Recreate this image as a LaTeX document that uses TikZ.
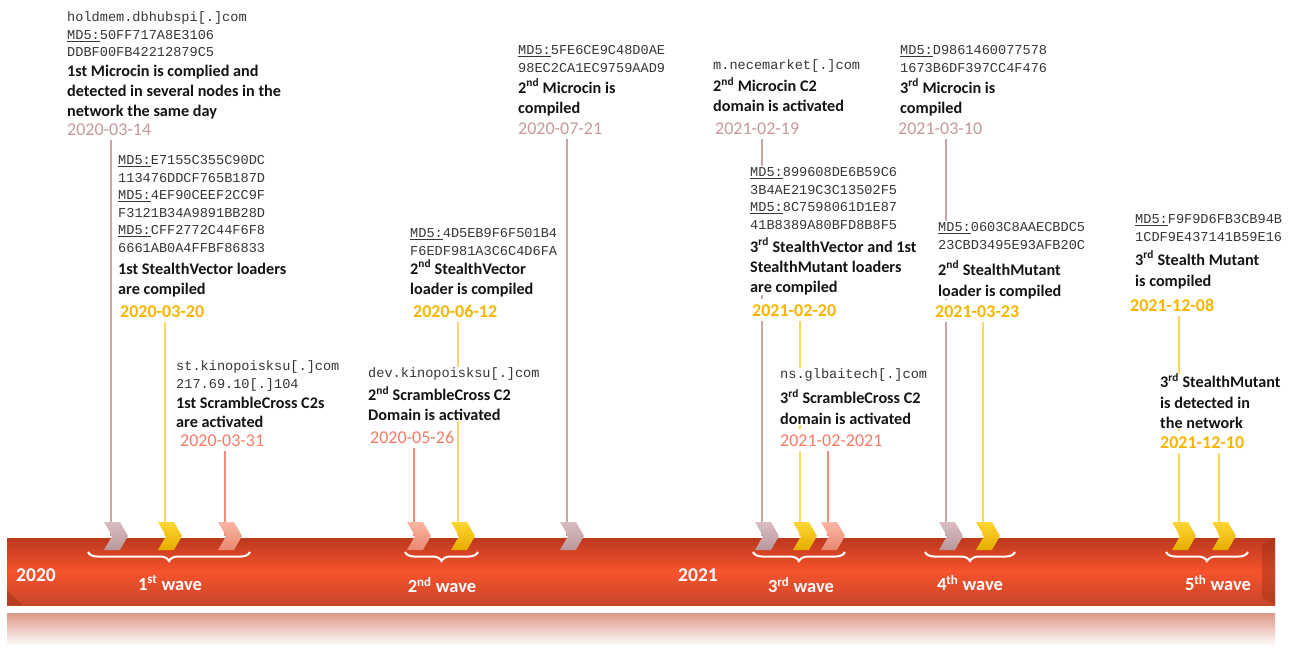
\documentclass[tikz,border=0pt]{standalone}
\usepackage{fontspec}
\setmainfont{Carlito}
\newfontfamily\monof{Liberation Mono}
\usetikzlibrary{shapes.symbols,decorations.pathreplacing}
\definecolor{mauveL}{HTML}{C9A5A8}
\definecolor{mauveD}{HTML}{C49A9C}
\definecolor{goldL}{HTML}{FFD75E}
\definecolor{goldD}{HTML}{F8B500}
\definecolor{salL}{HTML}{F28B78}
\definecolor{salD}{HTML}{F47C64}
\definecolor{monoc}{HTML}{363636}
\definecolor{boldc}{HTML}{141414}
\definecolor{bartop}{HTML}{BC381E}
\definecolor{barmid}{HTML}{F6532C}
\definecolor{barbot}{HTML}{C8462A}
\definecolor{reflc}{HTML}{DE9888}
\definecolor{chMt}{HTML}{D9BEC1}
\definecolor{chMb}{HTML}{B8979B}
\definecolor{chYt}{HTML}{FFD633}
\definecolor{chYb}{HTML}{E6AC00}
\definecolor{chSt}{HTML}{F9B6A3}
\definecolor{chSb}{HTML}{E9876F}
\newcommand{\Mo}[1]{{\monof\fontsize{13.6}{17.5}\selectfont\color{monoc}\rule{0pt}{11pt}#1}}
\newcommand{\Bo}[1]{{\bfseries\fontsize{16.2}{17.5}\selectfont\color{boldc}\rule{0pt}{12pt}#1}}
\newcommand{\mdu}{\underline{MD5:}}
\newcommand{\sps}[1]{\textsuperscript{#1}}
\pgfdeclarelayer{bg}
\pgfsetlayers{bg,main}
\tikzset{
  blk/.style={anchor=north west, inner sep=0pt, align=left, fill=white, font=\fontsize{14}{17.5}\selectfont},
  datebase/.style={anchor=base west, inner xsep=0pt, inner ysep=5pt, fill=white, font=\fontsize{18}{20}\selectfont},
  dateM/.style={datebase, text=mauveD},
  dateY/.style={datebase, text=goldD, font=\bfseries\fontsize{18}{20}\selectfont},
  dateS/.style={datebase, text=salD},
  chevbase/.style={signal, signal from=west, signal to=east, signal pointer angle=120,
    minimum width=24pt, minimum height=28pt, inner sep=0pt, draw=none},
  chevM/.style={chevbase, top color=chMt, bottom color=chMb},
  chevY/.style={chevbase, top color=chYt, bottom color=chYb},
  chevS/.style={chevbase, top color=chSt, bottom color=chSb},
  conbase/.style={line width=2pt},
  conM/.style={conbase, draw=mauveL},
  conY/.style={conbase, draw=goldL},
  conS/.style={conbase, draw=salL},
  wbrace/.style={draw=white, line width=2pt, decorate, decoration={brace, mirror, amplitude=9pt}},
  wlab/.style={text=white, inner sep=0pt, font=\bfseries\fontsize{18.5}{20}\selectfont},
  ylab/.style={text=white, inner sep=0pt, font=\bfseries\fontsize{19.5}{20}\selectfont},
}
\begin{document}
\begin{tikzpicture}[x=1pt,y=-1pt]
\useasboundingbox (0,0) rectangle (1294,648);
\begin{pgfonlayer}{bg}
  \fill[white] (0,0) rectangle (1294,648);
  % timeline bar
  \shade[top color=bartop, bottom color=barbot, middle color=barmid] (7,538) rectangle (1275,605);
  \fill[bartop!85!black, opacity=0.45] (1262,545) -- (1275,538) -- (1275,605) -- (1262,598) -- cycle;
  \fill[bartop!80!black, opacity=0.4] (7,590) -- (22,605) -- (7,605) -- cycle;
  % reflection
  \shade[top color=reflc, bottom color=white] (7,613) rectangle (1275,646);
\end{pgfonlayer}

% ---------- text blocks ----------
\node[blk] (b1) at (67,10.5) {\Mo{holdmem.dbhubspi[.]com}\\ \Mo{\mdu 50FF717A8E3106}\\ \Mo{DDBF00FB42212879C5}\\[2pt] \Bo{1st Microcin is complied and}\\[2.5pt] \Bo{detected in several nodes in the}\\[2.5pt] \Bo{network the same day}};
\node[dateM] (d1) at (67,135) {2020-03-14};

\node[blk] (b2) at (118,153.5) {\Mo{\mdu E7155C355C90DC}\\ \Mo{113476DDCF765B187D}\\ \Mo{\mdu 4EF90CEEF2CC9F}\\ \Mo{F3121B34A9891BB28D}\\ \Mo{\mdu CFF2772C44F6F8}\\ \Mo{6661AB0A4FFBF86833}\\[4.5pt] \Bo{1st StealthVector loaders}\\[2.5pt] \Bo{are compiled}};
\node[dateY] (d2) at (120,317) {2020-03-20};

\node[blk] (b3) at (176,359.5) {\Mo{st.kinopoisksu[.]com}\\ \Mo{217.69.10[.]104}\\[2.5pt] \Bo{1st ScrambleCross C2s}\\[1.5pt] \Bo{are activated}};
\node[dateS] (d3) at (180,446) {2020-03-31};

\node[blk] (b4) at (410,226.5) {\Mo{\mdu 4D5EB9F6F501B4}\\ \Mo{F6EDF981A3C6C4D6FA}\\[1.5pt] \Bo{2\sps{nd} StealthVector}\\[2.5pt] \Bo{loader is compiled}};
\node[dateY] (d4) at (413,317) {2020-06-12};

\node[blk] (b5) at (368,366.5) {\Mo{dev.kinopoisksu[.]com}\\[5.5pt] \Bo{2\sps{nd} ScrambleCross C2}\\[2.5pt] \Bo{Domain is activated}};
\node[dateS] (d5) at (370,443) {2020-05-26};

\node[blk] (b6) at (518,43.5) {\Mo{\mdu 5FE6CE9C48D0AE}\\ \Mo{98EC2CA1EC9759AAD9}\\[3.5pt] \Bo{2\sps{nd} Microcin is}\\[2.5pt] \Bo{compiled}};
\node[dateM] (d6) at (518,134) {2020-07-21};

\node[blk] (b7) at (713,58.5) {\Mo{m.necemarket[.]com}\\[4.5pt] \Bo{2\sps{nd} Microcin C2}\\[2.5pt] \Bo{domain is activated}};
\node[dateM] (d7) at (715,134) {2021-02-19};

\node[blk] (b8) at (900,43.5) {\Mo{\mdu D9861460077578}\\ \Mo{1673B6DF397CC4F476}\\[3.5pt] \Bo{3\sps{rd} Microcin is}\\[2.5pt] \Bo{compiled}};
\node[dateM] (d8) at (898,134) {2021-03-10};

\node[blk] (b9) at (750,165.5) {\Mo{\mdu 899608DE6B59C6}\\ \Mo{3B4AE219C3C13502F5}\\ \Mo{\mdu 8C7598061D1E87}\\ \Mo{41B8389A80BFD8B8F5}\\[5.5pt] \Bo{3\sps{rd} StealthVector and 1st}\\[3pt] \Bo{StealthMutant loaders}\\[2.5pt] \Bo{are compiled}};
\node[dateY] (d9) at (752,316) {2021-02-20};

\node[blk] (b10) at (938,220.5) {\Mo{\mdu 0603C8AAECBDC5}\\ \Mo{23CBD3495E93AFB20C}\\[8.5pt] \Bo{2\sps{nd} StealthMutant}\\[3.5pt] \Bo{loader is compiled}};
\node[dateY] (d10) at (935,317) {2021-03-23};

\node[blk] (b11) at (780,367.5) {\Mo{ns.glbaitech[.]com}\\[7.5pt] \Bo{3\sps{rd} ScrambleCross C2}\\[3.5pt] \Bo{domain is activated}};
\node[dateS] (d11) at (780,446) {2021-02-2021};

\node[blk] (b12) at (1135,212.5) {\Mo{\mdu F9F9D6FB3CB94B}\\ \Mo{1CDF9E437141B59E16}\\[6.5pt] \Bo{3\sps{rd} Stealth Mutant}\\[3.5pt] \Bo{is compiled}};
\node[dateY] (d12) at (1130,311) {2021-12-08};

\node[blk] (b13) at (1160,373.5) {\Bo{3\sps{rd} StealthMutant}\\[3.5pt] \Bo{is detected in}\\[2.5pt] \Bo{the network}};
\node[dateY] (d13) at (1160,448) {2021-12-10};

% ---------- chevrons ----------
\node[chevM] (c1) at (116,536) {};
\node[chevY] (c2) at (170,536) {};
\node[chevS] (c3) at (230,536) {};
\node[chevS] (c4) at (419,536) {};
\node[chevY] (c5) at (463,536) {};
\node[chevM] (c6) at (572,536) {};
\node[chevM] (c7) at (767,536) {};
\node[chevY] (c8) at (805,536) {};
\node[chevS] (c9) at (833,536) {};
\node[chevM] (c10) at (951,536) {};
\node[chevY] (c11) at (988,536) {};
\node[chevY] (c12) at (1184,536) {};
\node[chevY] (c13) at (1224,536) {};

% ---------- connectors ----------
\begin{pgfonlayer}{bg}
  \draw[conM] ([xshift=-5pt]c1.north |- d1.south) -- ([xshift=-5pt]c1.center);
  \draw[conY] ([xshift=-5pt]c2.north |- d2.south) -- ([xshift=-5pt]c2.center);
  \draw[conS] ([xshift=-5pt]c3.north |- d3.south) -- ([xshift=-5pt]c3.center);
  \draw[conS] ([xshift=-5pt]c4.north |- d5.south) -- ([xshift=-5pt]c4.center);
  \draw[conY] ([xshift=-5pt]c5.north |- d4.south) -- ([xshift=-5pt]c5.center);
  \draw[conM] ([xshift=-5pt]c6.north |- d6.south) -- ([xshift=-5pt]c6.center);
  \draw[conM] ([xshift=-5pt]c7.north |- d7.south) -- ([xshift=-5pt]c7.center);
  \draw[conY] ([xshift=-5pt]c8.north |- d9.south) -- ([xshift=-5pt]c8.center);
  \draw[conS] ([xshift=-5pt]c9.north |- d11.south) -- ([xshift=-5pt]c9.center);
  \draw[conM] ([xshift=-5pt]c10.north |- d8.south) -- ([xshift=-5pt]c10.center);
  \draw[conY] ([xshift=-5pt]c11.north |- d10.south) -- ([xshift=-5pt]c11.center);
  \draw[conY] ([xshift=-5pt]c12.north |- d12.south) -- ([xshift=-5pt]c12.center);
  \draw[conY] ([xshift=-5pt]c13.north |- d13.south) -- ([xshift=-5pt]c13.center);
\end{pgfonlayer}

% ---------- braces and labels ----------
\draw[wbrace] (88,552) -- (250,552);
\draw[wbrace] (405,552) -- (478,552);
\draw[wbrace] (753,552) -- (845,552);
\draw[wbrace] (925,552) -- (1015,552);
\draw[wbrace] (1166,552) -- (1248,552);
\node[wlab] (w1) at (170,583) {1\sps{st} wave};
\node[wlab] (w2) at (442,585) {2\sps{nd} wave};
\node[wlab] (w3) at (801,585) {3\sps{rd} wave};
\node[wlab] (w4) at (970,583) {4\sps{th} wave};
\node[wlab] (w5) at (1218,583) {5\sps{th} wave};
\node[ylab] (y1) at (36,575) {2020};
\node[ylab] (y2) at (698,575) {2021};
\end{tikzpicture}
\end{document}
